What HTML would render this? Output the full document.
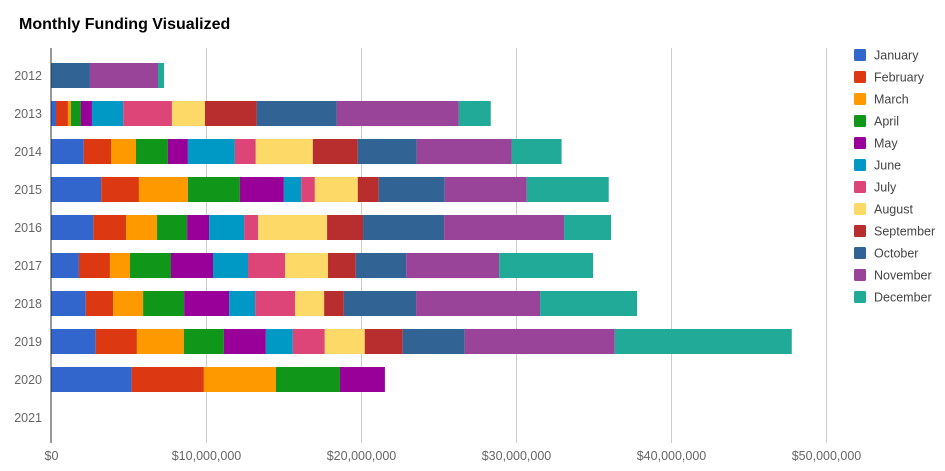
<!DOCTYPE html>
<html><head><meta charset="utf-8"><style>
body{margin:0;background:#fff;font-family:"Liberation Sans",Arial,sans-serif;}
svg{display:block}
</style></head><body>
<svg id="chart" width="945" height="471">
<text x="19" y="29" font-size="16" font-weight="bold" fill="#000">Monthly Funding Visualized</text>
<g id="grid"></g><g id="bars"></g><g id="yaxis"></g><g id="xaxis"></g><g id="legend"></g>
</svg>
<script>
const years = ["2012","2013","2014","2015","2016","2017","2018","2019","2020","2021"];
const months = ["January","February","March","April","May","June","July","August","September","October","November","December"];
const colors = ["#3366cc","#dc3912","#ff9900","#109618","#990099","#0099c6","#dd4477","#fdd968","#b82e2e","#316395","#994499","#22aa99"];
const v2012 = [0,0,0,0,0,0,0,0,0,2.48,4.39,0.39];
const v2013 = [0.29,0.77,0.19,0.65,0.71,2.02,3.14,2.13,3.35,5.16,7.87,2.06];
const v2014 = [2.08,1.76,1.61,2.06,1.29,3.03,1.35,3.68,2.90,3.81,6.11,3.23];
const v2015 = [3.21,2.43,3.16,3.35,2.84,1.12,0.88,2.77,1.35,4.26,5.29,5.29];
const v2016 = [2.70,2.11,2.00,1.94,1.42,2.26,0.90,4.45,2.32,5.23,7.74,3.03];
const v2017 = [1.77,2.00,1.29,2.65,2.71,2.26,2.39,2.77,1.79,3.25,6.00,6.06];
const v2018 = [2.21,1.76,1.94,2.65,2.90,1.68,2.58,1.87,1.27,4.66,8.00,6.26];
const v2019 = [2.85,2.66,3.03,2.58,2.71,1.74,2.06,2.58,2.45,4.00,9.68,11.42];
const v2020 = [5.17,4.66,4.65,4.13,2.90,0,0,0,0,0,0,0];
const v2021 = [0,0,0,0,0,0,0,0,0,0,0,0];
const values = [v2012,v2013,v2014,v2015,v2016,v2017,v2018,v2019,v2020,v2021];
const xTicks = [0,10,20,30,40,50];
const xTickLabels = ["$0","$10,000,000","$20,000,000","$30,000,000","$40,000,000","$50,000,000"];

const NS="http://www.w3.org/2000/svg";
const x0=51.5, pxPerM=15.5, rowTop=63, rowStep=38, barH=25, plotTop=48, plotBot=443;
const xs = v => x0 + v*pxPerM;
const ys = i => rowTop + i*rowStep;
function mk(tag, attrs, parent){const e=document.createElementNS(NS,tag);for(const k in attrs)e.setAttribute(k,attrs[k]);parent.appendChild(e);return e;}
const grid=document.getElementById('grid'), bars=document.getElementById('bars'), yaxis=document.getElementById('yaxis'), xaxis=document.getElementById('xaxis'), legend=document.getElementById('legend');

xTicks.forEach((t,i)=>{
  if(i>0){const l=mk('line',{x1:xs(t),x2:xs(t),y1:plotTop,y2:plotBot,stroke:'#cccccc','stroke-width':1},grid);
  
  }
  const tx=mk('text',{x:xs(t),y:460,'font-size':12.5,fill:'#666','text-anchor':'middle'},xaxis);
  tx.textContent=xTickLabels[i];
  
  
});
years.forEach((yr,i)=>{
  let cum=0;
  values[i].forEach((v,m)=>{
    if(v<=0)return;
    const r=mk('rect',{x:xs(cum),y:ys(i),width:v*pxPerM,height:barH,fill:colors[m]},bars);
    
    
    cum+=v;
  });
  const t=mk('text',{x:42,y:ys(i)+barH/2+4.5,'font-size':12.5,fill:'#666','text-anchor':'end'},yaxis);
  t.textContent=yr;
  
  
});
const ax=mk('line',{x1:x0-0.5,x2:x0-0.5,y1:plotTop,y2:plotBot,stroke:'#333','stroke-width':1},yaxis);


months.forEach((m,i)=>{
  const g=mk('g',{},legend);
  
  
  mk('rect',{x:854,y:49+i*22,width:12,height:12,rx:1.5,fill:colors[i]},g);
  const t=mk('text',{x:874,y:59.5+i*22,'font-size':12.5,fill:'#444'},g);
  t.textContent=m;
});
</script>
</body></html>
